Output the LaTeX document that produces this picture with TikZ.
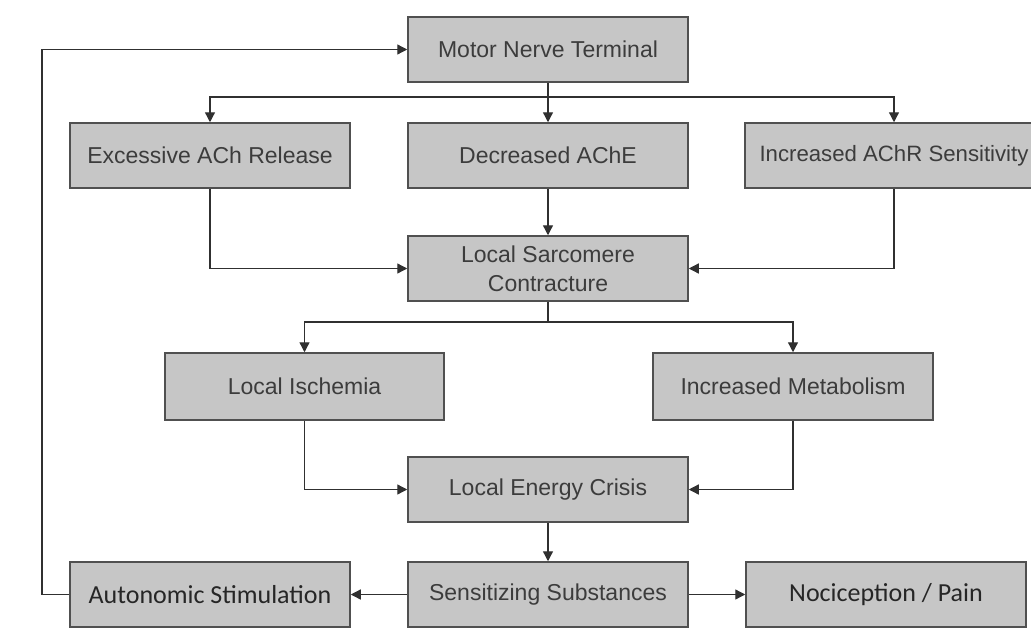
\documentclass[tikz,border=0pt]{standalone}
\usepackage{fontspec}
\setmainfont{Liberation Sans}
\newfontfamily\calib{Carlito}
\usetikzlibrary{arrows.meta}
\definecolor{boxfill}{HTML}{C6C6C6}
\definecolor{boxline}{HTML}{505050}
\definecolor{txt}{HTML}{3C3C3C}
\definecolor{lin}{HTML}{303030}
\begin{document}
\begin{tikzpicture}[x=1pt,y=-1pt,
 box/.style={draw=boxline, fill=boxfill, line width=1.5pt, minimum width=280pt, minimum height=65pt, inner sep=0pt, text=txt, font=\fontsize{23}{27}\selectfont, align=center},
 cbox/.style={box, text=black!85, font=\calib\fontsize{26}{30}\selectfont},
 conn/.style={draw=lin, line width=1.3pt},
 arr/.style={conn, -{Triangle[length=10pt,width=10pt]}}]
\useasboundingbox (0,0) rectangle (1031,637);
\clip (0,0) rectangle (1031,637);
\fill[white] (0,0) rectangle (1031,637);
\node[box] (mnt) at (548,49.5) {Motor Nerve Terminal};
\node[box] (ach) at (210,155.5) {Excessive ACh Release};
\node[box] (ache) at (548,155.5) {Decreased AChE};
\node[box, minimum width=298pt, font=\fontsize{22.2}{27}\selectfont] (achr) at (894,155.5) {Increased AChR Sensitivity};
\node[box, font=\fontsize{23}{29}\selectfont] (sarc) at (548,268.5) {Local Sarcomere\\Contracture};
\node[box, minimum width=279pt, minimum height=67pt] (isch) at (304.5,386.5) {Local Ischemia};
\node[box, minimum height=67pt] (meta) at (793,386.5) {Increased Metabolism};
\node[box] (energy) at (548,489.5) {Local Energy Crisis};
\node[box] (sens) at (548,594.5) {Sensitizing Substances};
\node[cbox] (auto) at (210,594.5) {Autonomic Stimulation};
\node[cbox] (noci) at (886,594.5) {Nociception / Pain};
\coordinate (j1) at (548,97);
\coordinate (j2) at (548,322);
\coordinate (f1) at (42,594.5);
\coordinate (f2) at (42,49.5);
\draw[conn] (mnt.south) -- (j1);
\draw[arr] (j1) -| (ach.north);
\draw[arr] (j1) -- (ache.north);
\draw[arr] (j1) -| (achr.north);
\draw[arr] (ach.south) |- (sarc.west);
\draw[arr] (ache.south) -- (sarc.north);
\draw[arr] (achr.south) |- (sarc.east);
\draw[conn] (sarc.south) -- (j2);
\draw[arr] (j2) -| (isch.north);
\draw[arr] (j2) -| (meta.north);
\draw[arr] (isch.south) |- (energy.west);
\draw[arr] (meta.south) |- (energy.east);
\draw[arr] (energy.south) -- (sens.north);
\draw[arr] (sens.west) -- (auto.east);
\draw[arr] (sens.east) -- (noci.west);
\draw[arr] (auto.west) -- (f1) -- (f2) -- (mnt.west);
\end{tikzpicture}
\end{document}
